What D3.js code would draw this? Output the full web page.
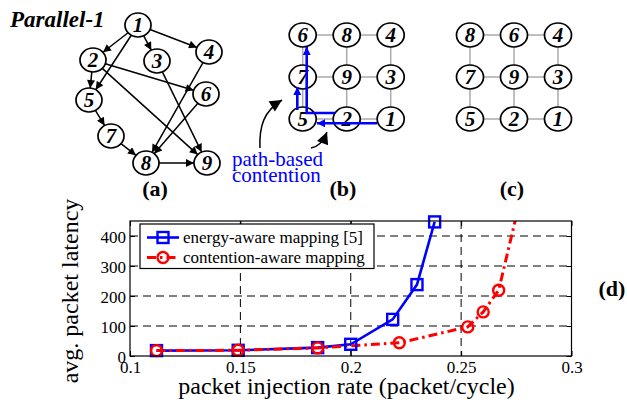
<!DOCTYPE html>
<html><head><meta charset="utf-8">
<script src="https://cdn.jsdelivr.net/npm/d3@7"></script>
<style>body{margin:0;background:#fff}svg{display:block}</style>
</head><body>
<svg id="c" width="627" height="402"></svg>
<script>
// ---- data ----
const taskNodes = ["1","2","3","4","5","6","7","8","9"];
const taskEdges = [["1","2"],["1","3"],["1","4"],["1","5"],["2","5"],["2","6"],["2","9"],["3","9"],["4","8"],["6","8"],["5","7"],["7","8"],["8","9"]];
const mappingB = [["6","8","4"],["7","9","3"],["5","2","1"]];
const mappingC = [["8","6","4"],["7","9","3"],["5","2","1"]];
const energyX = [0.112, 0.149, 0.185, 0.200, 0.219, 0.230, 0.238];
const energyY = [18, 19, 28, 39, 122, 238, 447];
const contentionX = [0.112, 0.149, 0.185, 0.222, 0.253, 0.260, 0.267, 0.278];
const contentionY = [18, 19, 27, 44, 97, 147, 219, 560];
const contentionMarked = [true,true,true,true,true,true,true,false];
const xTicks = [0.1, 0.15, 0.2, 0.25, 0.3];
const xTickLabels = ["0.1","0.15","0.2","0.25","0.3"];
const yTicks = [0, 100, 200, 300, 400];
const yTickLabels = ["0","100","200","300","400"];
const seriesNames = ["energy-aware mapping [5]", "contention-aware mapping"];

// ---- layout (not data) ----
const taskPos = {"1":[138,25],"2":[93,60],"3":[157,61],"4":[209,52],"5":[89,100],"6":[206,94],"7":[111,136],"8":[146,163],"9":[207,163]};

const svg = d3.select("#c");
const serif = "'Liberation Serif','Times New Roman',serif";

// arrow markers
const defs = svg.append("defs");
function mk(id, color, w, h){
  defs.append("marker").attr("id",id).attr("viewBox","0 0 10 10").attr("refX",10).attr("refY",5)
    .attr("markerWidth",w).attr("markerHeight",h).attr("markerUnits","userSpaceOnUse").attr("orient","auto")
    .append("path").attr("d","M0,0L10,5L0,10Z").attr("fill",color);
}
mk("ab","#000",9,8); mk("abl","#0000ff",9,8); mk("abig","#000",13,12);
defs.append("clipPath").attr("id","plotclip").append("rect").attr("x",130).attr("y",221).attr("width",441.5).attr("height",135);

// ---- (a) task graph ----
svg.append("text").attr("x",10).attr("y",27).attr("font-family",serif).attr("font-weight","bold").attr("font-style","italic").attr("font-size",23).text("Parallel-1");
const rxA=13, ryA=12;
const gA = svg.append("g");
taskEdges.forEach(([s,t])=>{
  const [x1,y1]=taskPos[s],[x2,y2]=taskPos[t];
  const dx=x2-x1, dy=y2-y1, L=Math.hypot(dx,dy);
  const ux=dx/L, uy=dy/L;
  const f = 1/Math.sqrt((ux*ux)/(rxA*rxA)+(uy*uy)/(ryA*ryA));
  gA.append("line").attr("x1",x1+ux*f).attr("y1",y1+uy*f).attr("x2",x2-ux*f).attr("y2",y2-uy*f)
    .attr("stroke","#000").attr("stroke-width",1.5).attr("marker-end","url(#ab)");
});
taskNodes.forEach(n=>{
  const [x,y]=taskPos[n];
  gA.append("ellipse").attr("cx",x).attr("cy",y).attr("rx",rxA).attr("ry",ryA).attr("fill","#fff").attr("stroke","#000").attr("stroke-width",1.7);
  gA.append("text").attr("x",x).attr("y",y+7).attr("text-anchor","middle").attr("font-family",serif).attr("font-weight","bold").attr("font-style","italic").attr("font-size",21).text(n);
});

// ---- mesh mappings ----
function mesh(grid, x0, y0, drawExtra){
  const g = svg.append("g");
  const dx=44, dy=42, rx=13.5, ry=12;
  for(let r=0;r<3;r++)for(let c=0;c<3;c++){
    if(c<2) g.append("line").attr("x1",x0+c*dx).attr("y1",y0+r*dy).attr("x2",x0+(c+1)*dx).attr("y2",y0+r*dy).attr("stroke","#aaa").attr("stroke-width",1.5);
    if(r<2) g.append("line").attr("x1",x0+c*dx).attr("y1",y0+r*dy).attr("x2",x0+c*dx).attr("y2",y0+(r+1)*dy).attr("stroke","#aaa").attr("stroke-width",1.5);
  }
  for(let r=0;r<3;r++)for(let c=0;c<3;c++){
    g.append("ellipse").attr("cx",x0+c*dx).attr("cy",y0+r*dy).attr("rx",rx).attr("ry",ry).attr("fill","#fff").attr("stroke","#000").attr("stroke-width",1.7);
    g.append("text").attr("x",x0+c*dx).attr("y",y0+r*dy+7).attr("text-anchor","middle").attr("font-family",serif).attr("font-weight","bold").attr("font-style","italic").attr("font-size",21).text(grid[r][c]);
  }
  if(drawExtra) drawExtra(g);
}
mesh(mappingB, 302.7, 35, g=>{
  const bl="#0000ff";
  g.append("path").attr("d","M377,123.3L317,123.3").attr("stroke",bl).attr("stroke-width",2.6).attr("fill","none").attr("marker-end","url(#abl)");
  g.append("path").attr("d","M335,113L306.7,113L306.7,47").attr("stroke",bl).attr("stroke-width",2.6).attr("fill","none").attr("marker-end","url(#abl)");
  g.append("path").attr("d","M297.3,110L297.3,87").attr("stroke",bl).attr("stroke-width",2.6).attr("fill","none").attr("marker-end","url(#abl)");
  g.append("path").attr("d","M260,148C259,126 264,111 282,100").attr("stroke","#000").attr("stroke-width",1.5).attr("fill","none").attr("marker-end","url(#abig)");
  g.append("path").attr("d","M311,148C318,147 323,142 327,132").attr("stroke","#000").attr("stroke-width",1.5).attr("fill","none").attr("marker-end","url(#abig)");
  g.append("text").attr("x",232).attr("y",166).attr("font-family",serif).attr("font-size",21).attr("fill",bl).text("path-based");
  g.append("text").attr("x",232).attr("y",182).attr("font-family",serif).attr("font-size",21).attr("fill",bl).text("contention");
});
mesh(mappingC, 470, 35);

[["(a)",155],["(b)",343],["(c)",512]].forEach(([t,x])=>{
  svg.append("text").attr("x",x).attr("y",196).attr("text-anchor","middle").attr("font-family",serif).attr("font-weight","bold").attr("font-size",22).text(t);
});
svg.append("text").attr("x",612).attr("y",296).attr("text-anchor","middle").attr("font-family",serif).attr("font-weight","bold").attr("font-size",22).text("(d)");

// ---- (d) plot ----
const X0=130, X1=571.5, Y0=356, Y1=221;
const x = d3.scaleLinear().domain([0.1,0.3]).range([X0,X1]);
const y = d3.scaleLinear().domain([0,450]).range([Y0,Y1]);
const gP = svg.append("g");
// grid
xTicks.slice(1,-1).forEach(v=>gP.append("line").attr("x1",x(v)).attr("x2",x(v)).attr("y1",Y1).attr("y2",Y0).attr("stroke","#000").attr("stroke-width",1).attr("stroke-dasharray","8,5"));
yTicks.slice(1).forEach(v=>gP.append("line").attr("x1",X0).attr("x2",X1).attr("y1",y(v)).attr("y2",y(v)).attr("stroke","#000").attr("stroke-width",1).attr("stroke-dasharray","8,5"));
// axes via d3
const fontAxis = g=>g.selectAll("text").attr("font-family",serif).attr("font-size",17).attr("fill","#000");
gP.append("g").attr("transform",`translate(0,${Y0})`)
  .call(d3.axisBottom(x).tickValues(xTicks).tickFormat((d,i)=>xTickLabels[i]).tickSizeInner(-5).tickSizeOuter(0).tickPadding(5))
  .call(g=>g.select(".domain").remove()).call(fontAxis);
gP.append("g").attr("transform",`translate(${X0},0)`)
  .call(d3.axisLeft(y).tickValues(yTicks).tickFormat((d,i)=>yTickLabels[i]).tickSizeInner(-5).tickSizeOuter(0).tickPadding(4))
  .call(g=>g.select(".domain").remove()).call(fontAxis)
  .call(g=>g.selectAll("text").attr("dy","0.36em"));
gP.append("g").attr("transform",`translate(0,${Y1})`)
  .call(d3.axisTop(x).tickValues(xTicks).tickFormat("").tickSizeInner(-5).tickSizeOuter(0)).call(g=>g.select(".domain").remove());
gP.append("g").attr("transform",`translate(${X1},0)`)
  .call(d3.axisRight(y).tickValues(yTicks).tickFormat("").tickSizeInner(-5).tickSizeOuter(0)).call(g=>g.select(".domain").remove());
gP.selectAll(".tick line").attr("stroke","#000");

// series
const line = d3.line().x(d=>x(d[0])).y(d=>y(d[1]));
const eData = energyX.map((v,i)=>[v,energyY[i]]);
const cData = contentionX.map((v,i)=>[v,contentionY[i]]);
const gS = gP.append("g").attr("clip-path","url(#plotclip)");
gS.append("path").datum(eData).attr("d",line).attr("fill","none").attr("stroke","#0000ff").attr("stroke-width",2.6);
const sq=11;
gP.selectAll(".sq").data(eData).enter().append("rect").attr("x",d=>x(d[0])-sq/2).attr("y",d=>y(d[1])-sq/2).attr("width",sq).attr("height",sq)
  .attr("fill","none").attr("stroke","#0000ff").attr("stroke-width",2.4);
gS.append("path").datum(cData).attr("d",line).attr("fill","none").attr("stroke","#ff0000").attr("stroke-width",3).attr("stroke-dasharray","9,4,2.5,4");
gP.selectAll(".ci").data(cData.filter((d,i)=>contentionMarked[i])).enter().append("circle").attr("cx",d=>x(d[0])).attr("cy",d=>y(d[1])).attr("r",5.5)
  .attr("fill","none").attr("stroke","#ff0000").attr("stroke-width",2.4);
// frame
gP.append("rect").attr("x",X0).attr("y",Y1).attr("width",X1-X0).attr("height",Y0-Y1).attr("fill","none").attr("stroke","#000").attr("stroke-width",1.2);

// legend
const gL = gP.append("g");
gL.append("rect").attr("x",140).attr("y",224).attr("width",234).attr("height",44.5).attr("fill","#fff").attr("stroke","#000").attr("stroke-width",1.2);
gL.append("line").attr("x1",147).attr("x2",179).attr("y1",237.5).attr("y2",237.5).attr("stroke","#0000ff").attr("stroke-width",2.6);
gL.append("rect").attr("x",163-sq/2).attr("y",237.5-sq/2).attr("width",sq).attr("height",sq).attr("fill","none").attr("stroke","#0000ff").attr("stroke-width",2.4);
gL.append("line").attr("x1",147).attr("x2",179).attr("y1",257.5).attr("y2",257.5).attr("stroke","#ff0000").attr("stroke-width",3).attr("stroke-dasharray","9,4,2.5,4");
gL.append("circle").attr("cx",163).attr("cy",257.5).attr("r",5.5).attr("fill","none").attr("stroke","#ff0000").attr("stroke-width",2.4);
gL.append("text").attr("x",183).attr("y",243).attr("font-family",serif).attr("font-size",17).text(seriesNames[0]);
gL.append("text").attr("x",183).attr("y",263).attr("font-family",serif).attr("font-size",17).text(seriesNames[1]);

// axis titles
svg.append("text").attr("x",346.5).attr("y",394).attr("text-anchor","middle").attr("font-family",serif).attr("font-size",24).text("packet injection rate (packet/cycle)");
svg.append("text").attr("transform","translate(78,291) rotate(-90)").attr("text-anchor","middle").attr("font-family",serif).attr("font-size",24).text("avg. packet latency");
</script>
</body></html>
